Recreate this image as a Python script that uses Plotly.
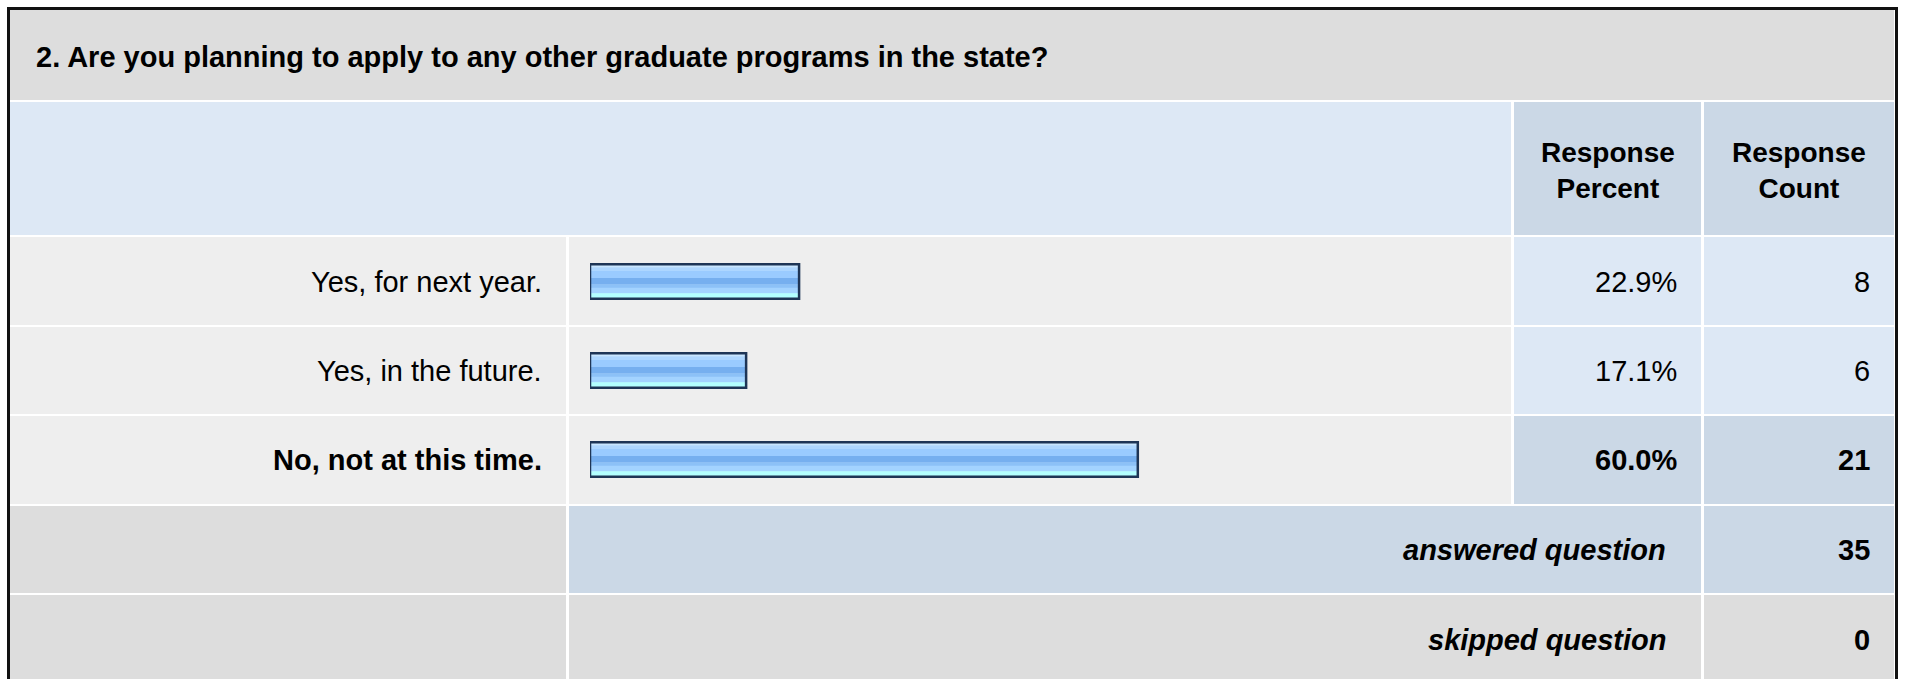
import plotly.graph_objects as go

# ---------------- data ----------------
question = "2. Are you planning to apply to any other graduate programs in the state?"
answer_choices = ["Yes, for next year.", "Yes, in the future.", "No, not at this time."]
response_percent = [22.9, 17.1, 60.0]
response_count = [8, 6, 21]
header_percent = "Response<br>Percent"
header_count = "Response<br>Count"
summary_labels = ["answered question", "skipped question"]
summary_counts = [35, 0]

# ---------------- geometry helpers ----------------
W, H = 1909, 679
def px(x):
    return x / W
def py(y):
    return 1 - y / H

FONT = "Liberation Sans, Arial, Helvetica, sans-serif"
C_TITLE = "#DDDDDD"
C_HEAD = "#DDE8F5"
C_HEADCELL = "#CBD8E6"
C_ROW = "#EEEEEE"
C_NUM = "#DDE8F5"
C_NUM_HI = "#CBD8E6"

# column edges (px)
XL0, XL1 = 10, 566
XB0, XB1 = 569, 1511
XP0, XP1 = 1514, 1701
XC0, XC1 = 1704, 1894
# row edges (px)
rows_y = [(237, 325), (327, 414), (416, 504)]
ans_y = (506, 593)
skip_y = (595, 690)

hi = response_percent.index(max(response_percent))

shapes = []
def cell(x0, y0, x1, y1, color):
    shapes.append(dict(type="rect", xref="paper", yref="paper",
                       x0=px(x0), x1=px(x1), y0=py(y1), y1=py(y0),
                       fillcolor=color, line=dict(width=0), layer="below"))

# title band and header
cell(XL0, 10, XC1, 100, C_TITLE)
cell(XL0, 102, XP0 - 3, 235, C_HEAD)
cell(XP0, 102, XP1, 235, C_HEADCELL)
cell(XC0, 102, XC1, 235, C_HEADCELL)
for i, (y0, y1) in enumerate(rows_y):
    cell(XL0, y0, XL1, y1, C_ROW)
    cell(XB0, y0, XB1, y1, C_ROW)
    ncol = C_NUM_HI if i == hi else C_NUM
    cell(XP0, y0, XP1, y1, ncol)
    cell(XC0, y0, XC1, y1, ncol)
cell(XL0, ans_y[0], XL1, ans_y[1], C_TITLE)
cell(XB0, ans_y[0], XP1, ans_y[1], C_HEADCELL)
cell(XC0, ans_y[0], XC1, ans_y[1], C_HEADCELL)
cell(XL0, skip_y[0], XL1, skip_y[1], C_TITLE)
cell(XB0, skip_y[0], XP1, skip_y[1], C_TITLE)
cell(XC0, skip_y[0], XC1, skip_y[1], C_TITLE)
# outer border
shapes.append(dict(type="rect", xref="paper", yref="paper",
                   x0=px(8.5), x1=px(1896.5), y0=py(700), y1=py(8.5),
                   fillcolor="rgba(0,0,0,0)", line=dict(color="#111111", width=3),
                   layer="above"))

# ---------------- bars (striped gradient) ----------------
BAR_H = 0.39
stripes = [
    (0.00, 0.09, "#C9E6FF"),
    (0.09, 0.20, "#ADD6FF"),
    (0.20, 0.40, "#9ACBFF"),
    (0.40, 0.58, "#76AFEF"),
    (0.58, 0.68, "#8CC1F7"),
    (0.68, 0.84, "#A3D3FF"),
    (0.84, 1.00, "#B3FFFF"),
]
fig = go.Figure()
for a, b, col in stripes:
    fig.add_trace(go.Bar(
        x=response_percent, y=answer_choices, orientation="h",
        offset=-BAR_H / 2 + a * BAR_H, width=(b - a) * BAR_H + 0.004,
        marker=dict(color=col, line=dict(width=0)),
        hoverinfo="skip", showlegend=False))
fig.add_trace(go.Bar(
    x=response_percent, y=answer_choices, orientation="h",
    offset=-BAR_H / 2, width=BAR_H,
    marker=dict(color="rgba(0,0,0,0)", line=dict(color="#1E3556", width=2.5)),
    hoverinfo="skip", showlegend=False))

# ---------------- text ----------------
ann = []
ann.append(dict(text="<b>" + question + "</b>", xref="paper", yref="paper",
                x=px(34), y=py(57), xanchor="left", yanchor="middle",
                showarrow=False, font=dict(size=29, color="#000000", family=FONT)))
ann.append(dict(text="<b>" + header_percent + "</b>", xref="paper", yref="paper",
                x=px((XP0 + XP1) / 2), y=py(170), xanchor="center", yanchor="middle",
                showarrow=False, font=dict(size=28, color="#000000", family=FONT)))
ann.append(dict(text="<b>" + header_count + "</b>", xref="paper", yref="paper",
                x=px((XC0 + XC1) / 2), y=py(170), xanchor="center", yanchor="middle",
                showarrow=False, font=dict(size=28, color="#000000", family=FONT)))
for i, lab in enumerate(answer_choices):
    b0, b1 = ("<b>", "</b>") if i == hi else ("", "")
    ann.append(dict(text=b0 + lab + b1, xref="paper", yref="y",
                    x=px(XL1 - 22), y=lab, xanchor="right", yanchor="middle",
                    showarrow=False, font=dict(size=29, color="#000000", family=FONT)))
    ann.append(dict(text=b0 + f"{response_percent[i]:.1f}%" + b1, xref="paper", yref="y",
                    x=px(XP1 - 22), y=lab, xanchor="right", yanchor="middle",
                    showarrow=False, font=dict(size=29, color="#000000", family=FONT)))
    ann.append(dict(text=b0 + str(response_count[i]) + b1, xref="paper", yref="y",
                    x=px(XC1 - 22), y=lab, xanchor="right", yanchor="middle",
                    showarrow=False, font=dict(size=29, color="#000000", family=FONT)))
for lab, cnt, (y0, y1) in zip(summary_labels, summary_counts, [ans_y, (595, 684)]):
    yc = (y0 + y1) / 2
    ann.append(dict(text="<b><i>" + lab + "</i></b>", xref="paper", yref="paper",
                    x=px(1668), y=py(yc), xanchor="right", yanchor="middle",
                    showarrow=False, font=dict(size=29, color="#000000", family=FONT)))
    ann.append(dict(text="<b>" + str(cnt) + "</b>", xref="paper", yref="paper",
                    x=px(XC1 - 22), y=py(yc), xanchor="right", yanchor="middle",
                    showarrow=False, font=dict(size=29, color="#000000", family=FONT)))

fig.update_layout(
    width=W, height=H, margin=dict(l=0, r=0, t=0, b=0),
    paper_bgcolor="#FFFFFF", plot_bgcolor="rgba(0,0,0,0)",
    barmode="overlay", shapes=shapes, annotations=ann,
    xaxis=dict(domain=[px(590), px(1503)], range=[0, 100], visible=False, fixedrange=True),
    yaxis=dict(domain=[py(504), py(237)], range=[2.5, -0.5], visible=False,
               type="category", categoryorder="array", categoryarray=answer_choices,
               fixedrange=True),
    showlegend=False,
)
fig.write_html("out.html")
